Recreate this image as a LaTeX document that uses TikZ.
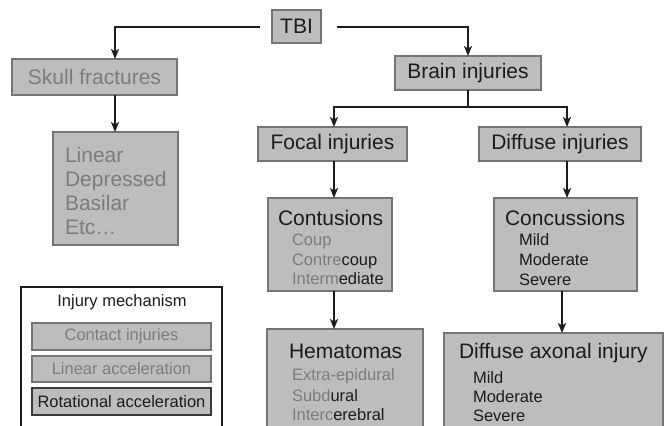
\documentclass[tikz,border=0pt]{standalone}
\usepackage{fontspec}
\setmainfont{Liberation Sans}
\usetikzlibrary{arrows.meta}
\definecolor{boxfill}{HTML}{BDBDBD}
\definecolor{boxline}{HTML}{747474}
\definecolor{dimtext}{HTML}{7C7C7C}
\definecolor{ink}{HTML}{1C1C1C}
\definecolor{darkline}{HTML}{3A3A3A}
\newcommand{\dm}[1]{\textcolor{dimtext}{#1}}

\begin{document}
\begin{tikzpicture}[x=1bp,y=-1bp,
  every node/.style={inner sep=0pt, outer sep=0pt},
  box/.style={draw=boxline, fill=boxfill, line width=1.3bp, anchor=north west},
  big/.style={font=\fontsize{21bp}{24bp}\selectfont},
  small/.style={font=\fontsize{16.5bp}{19bp}\selectfont},
  item/.style={small, anchor=base west, text=ink},
  conn/.style={line width=2bp, draw=ink},
  arr/.style={conn, -{Stealth[length=10bp,width=8bp,inset=2.5bp]}},
]
\useasboundingbox (0,0) rectangle (665,425);
\clip (0,0) rectangle (665,425);

% columns of the vertical connectors
\coordinate (colA) at (115,0);
\coordinate (colL) at (334,0);
\coordinate (colR) at (567,0);
\coordinate (colS) at (562,0);

% top level
\node[box, big, text=ink, minimum width=49bp, minimum height=33bp] (tbi) at (272,10) {TBI};
\node[box, big, text=dimtext, minimum width=165bp, minimum height=36bp] (skull) at (12,59) {Skull fractures};
\node[box, big, text=ink, minimum width=146bp, minimum height=34bp] (brain) at (395,56) {Brain injuries};

% skull fracture types
\node[box, minimum width=125bp, minimum height=113bp] (list) at (53,132) {};
\node[big, anchor=base west, text=dimtext] (l1) at (65,162) {Linear};
\node[big, anchor=base west, text=dimtext] (l2) at (65,186) {Depressed};
\node[big, anchor=base west, text=dimtext] (l3) at (65,210) {Basilar};
\node[big, anchor=base west, text=dimtext] (l4) at (65,234) {Etc…};

% focal / diffuse
\node[box, big, text=ink, minimum width=149bp, minimum height=34bp] (focal) at (258,127) {Focal injuries};
\node[box, big, text=ink, minimum width=162bp, minimum height=34bp] (diffuse) at (479,127) {Diffuse injuries};

% contusions
\node[box, minimum width=124bp, minimum height=93bp] (cont) at (268,198) {};
\node[big, anchor=base west, text=ink] (contT) at (278,225) {Contusions};
\node[item] (c1) at (292,245) {\dm{Coup}};
\node[item] (c2) at (292,265) {\dm{Contre}coup};
\node[item] (c3) at (292,284) {\dm{Interm}ediate};

% concussions
\node[box, minimum width=143bp, minimum height=93bp] (conc) at (494,198) {};
\node[big, anchor=base west, text=ink] (concT) at (505,225) {Concussions};
\node[item] (k1) at (519,245) {Mild};
\node[item] (k2) at (519,265) {Moderate};
\node[item] (k3) at (519,285) {Severe};

% hematomas
\node[box, minimum width=156bp, minimum height=120bp] (hema) at (267,329) {};
\node[big, anchor=base west, text=ink] (hemaT) at (289,358) {Hematomas};
\node[item] (h1) at (292,380) {\dm{Extra-epidural}};
\node[item] (h2) at (292,401) {\dm{Subd}ural};
\node[item] (h3) at (292,420) {\dm{Interc}erebral};

% diffuse axonal injury
\node[box, minimum width=219bp, minimum height=120bp] (dai) at (444,333) {};
\node[big, anchor=base west, text=ink] (daiT) at (459,358) {Diffuse axonal injury};
\node[item] (d1) at (473,383) {Mild};
\node[item] (d2) at (473,402) {Moderate};
\node[item] (d3) at (473,421) {Severe};

% legend of injury mechanisms
\node[draw=ink, fill=white, line width=1.5bp, anchor=north west,
      minimum width=201bp, minimum height=170bp] (mech) at (21,287) {};
\node[small, text=ink] (mechT) at (122,302) {Injury mechanism};
\node[box, small, text=dimtext, minimum width=179bp, minimum height=27bp] (contact) at (32,323) {Contact injuries};
\node[box, small, text=dimtext, minimum width=179bp, minimum height=26bp] (linacc) at (32,356) {Linear acceleration};
\node[box, small, text=ink, draw=darkline, line width=1.8bp, minimum width=179bp, minimum height=27bp] (rotacc) at (32,388) {Rotational acceleration};

% connectors
\draw[arr] ([xshift=-12bp]tbi.west) -| (colA |- skull.north);
\draw[arr] ([xshift=16bp]tbi.east) -| (brain.north);
\draw[arr] (skull.south -| colA) -- (list.north -| colA);
\draw[arr] (brain.south) -- ++(0,17) -| (colL |- focal.north);
\draw[arr] (brain.south) -- ++(0,17) -| (colR |- diffuse.north);
\draw[arr] (focal.south -| colL) -- (cont.north -| colL);
\draw[arr] (diffuse.south -| colR) -- (conc.north -| colR);
\draw[arr] (cont.south -| colL) -- (hema.north -| colL);
\draw[arr] (conc.south -| colS) -- (dai.north -| colS);
\end{tikzpicture}
\end{document}
